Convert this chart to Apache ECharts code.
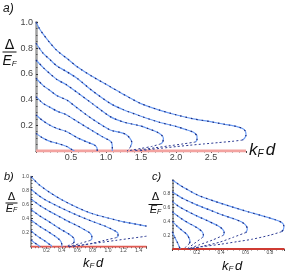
<!DOCTYPE html>
<html><head><meta charset="utf-8">
<script src="https://cdn.jsdelivr.net/npm/echarts@6/dist/echarts.min.js"></script>
<style>html,body{margin:0;padding:0;background:#fff}#c{width:286px;height:275px}</style>
</head><body><div id="c"></div>
<script>
// ---------- Panel a ----------
const aTicksX = [0.5, 1.0, 1.5, 2.0, 2.5];
const aTicksY = [0.2, 0.4, 0.6, 0.8, 1.0];
const aUpper1 = [[0,1.0],[0.05,0.95],[0.1,0.91],[0.2,0.84],[0.3,0.78],[0.44,0.72],[0.6,0.65],[0.8,0.58],[1.06,0.5],[1.25,0.44],[1.49,0.37],[1.75,0.32],[2.01,0.28],[2.25,0.25],[2.49,0.228],[2.7,0.207],[2.87,0.19],[2.95,0.175],[2.99,0.155],[3.0,0.125],[2.98,0.1],[2.95,0.085]];
const aUpper2 = [[0,0.837],[0.1,0.76],[0.2,0.71],[0.3,0.66],[0.44,0.616],[0.6,0.56],[0.8,0.47],[1.06,0.37],[1.25,0.32],[1.5,0.27],[1.75,0.225],[2.01,0.19],[2.15,0.165],[2.25,0.145],[2.3,0.115],[2.3,0.09],[2.28,0.07]];
const aUpper3 = [[0,0.707],[0.1,0.65],[0.2,0.6],[0.3,0.555],[0.44,0.513],[0.6,0.45],[0.8,0.37],[1.06,0.267],[1.25,0.225],[1.49,0.195],[1.62,0.17],[1.72,0.15],[1.79,0.125],[1.82,0.1],[1.81,0.07],[1.78,0.055]];
const aUpper4 = [[0,0.565],[0.1,0.51],[0.2,0.47],[0.3,0.43],[0.44,0.396],[0.6,0.33],[0.8,0.25],[1.06,0.163],[1.2,0.145],[1.28,0.13],[1.34,0.1],[1.37,0.065],[1.35,0.035]];
const aUpper5 = [[0,0.422],[0.1,0.37],[0.2,0.34],[0.3,0.31],[0.44,0.28],[0.6,0.225],[0.8,0.16],[0.95,0.11],[1.04,0.085],[1.08,0.065],[1.09,0.03],[1.09,0]];
const aUpper6 = [[0,0.28],[0.1,0.235],[0.2,0.2],[0.3,0.175],[0.44,0.15],[0.6,0.1],[0.75,0.065],[0.84,0.045],[0.87,0.025],[0.875,0]];
const aUpper7 = [[0,0.137],[0.1,0.1],[0.2,0.075],[0.3,0.06],[0.44,0.035],[0.5,0.015],[0.55,0]];
const aLower1 = [[2.95,0.085],[2.8,0.075],[2.6,0.065],[2.4,0.055],[2.2,0.045],[2.0,0.034],[1.8,0.022],[1.6,0.01],[1.45,0]];
const aLower2 = [[2.28,0.07],[2.1,0.055],[1.9,0.04],[1.7,0.025],[1.5,0.01],[1.38,0]];
const aLower3 = [[1.78,0.055],[1.65,0.035],[1.5,0.02],[1.38,0.008],[1.3,0]];
const aLower4 = [[1.35,0.035],[1.33,0.015],[1.3,0]];
const aZero = [[0,0],[3.0,0]];

// ---------- Panel b ----------
const bTicksX = [0.2, 0.4, 0.6, 0.8, 1.0, 1.2, 1.4];
const bUpper1 = [[0,1.0],[0.1,0.89],[0.25,0.77],[0.4,0.67],[0.6,0.56],[0.8,0.47],[1.0,0.41],[1.2,0.355],[1.4,0.315],[1.5,0.295]];
const bUpper2 = [[0,0.82],[0.1,0.73],[0.2,0.66],[0.4,0.55],[0.6,0.45],[0.8,0.36],[0.95,0.3],[1.05,0.25],[1.1,0.22],[1.13,0.19],[1.13,0.15],[1.11,0.13]];
const bUpper3 = [[0,0.68],[0.1,0.6],[0.2,0.53],[0.3,0.47],[0.45,0.38],[0.6,0.3],[0.7,0.24],[0.76,0.2],[0.79,0.15],[0.79,0.11],[0.77,0.09]];
const bUpper4 = [[0,0.53],[0.1,0.45],[0.2,0.38],[0.3,0.31],[0.4,0.24],[0.48,0.19],[0.53,0.15],[0.56,0.11],[0.56,0.07],[0.55,0.05]];
const bUpper5 = [[0,0.38],[0.1,0.3],[0.2,0.23],[0.3,0.16],[0.36,0.11],[0.39,0.07],[0.4,0.03],[0.4,0]];
const bUpper6 = [[0,0.23],[0.05,0.18],[0.1,0.14],[0.17,0.09],[0.22,0.05],[0.26,0.02],[0.27,0]];
const bUpper7 = [[0,0.1],[0.04,0.06],[0.08,0.03],[0.12,0]];
const bLower1 = [[1.5,0.15],[1.3,0.12],[1.1,0.09],[0.9,0.06],[0.7,0.03],[0.5,0]];
const bLower2 = [[1.11,0.13],[0.95,0.09],[0.8,0.05],[0.65,0.02],[0.5,0]];
const bLower3 = [[0.77,0.09],[0.65,0.05],[0.55,0.02],[0.46,0]];
const bLower4 = [[0.55,0.05],[0.49,0.02],[0.44,0]];
const bZero = [[0,0],[1.5,0]];

// ---------- Panel c ----------
const cTicksX = [0.2, 0.4, 0.6, 0.8];
const cUpper1 = [[0,1.0],[0.05,0.94],[0.1,0.885],[0.21,0.78],[0.35,0.69],[0.49,0.61],[0.62,0.54],[0.76,0.47],[0.85,0.42],[0.9,0.38],[0.915,0.33],[0.91,0.28],[0.895,0.25]];
const cUpper2 = [[0,0.83],[0.05,0.77],[0.1,0.72],[0.2,0.64],[0.3,0.57],[0.4,0.5],[0.5,0.44],[0.57,0.39],[0.605,0.34],[0.615,0.29],[0.605,0.24]];
const cUpper3 = [[0,0.69],[0.05,0.62],[0.1,0.57],[0.2,0.48],[0.3,0.4],[0.37,0.34],[0.41,0.29],[0.425,0.24],[0.42,0.2]];
const cUpper4 = [[0,0.54],[0.05,0.47],[0.1,0.41],[0.16,0.35],[0.21,0.3],[0.245,0.25],[0.255,0.2],[0.25,0.17]];
const cUpper5 = [[0,0.4],[0.04,0.33],[0.08,0.27],[0.12,0.21],[0.14,0.15],[0.145,0.11],[0.14,0.08]];
const cUpper6 = [[0,0.25],[0.02,0.17],[0.04,0.1],[0.055,0.04],[0.065,0]];
const cLower1 = [[0.895,0.25],[0.8,0.2],[0.65,0.14],[0.53,0.106],[0.4,0.07],[0.25,0.034],[0.12,0]];
const cLower2 = [[0.605,0.24],[0.5,0.17],[0.39,0.1],[0.25,0.04],[0.14,0]];
const cLower3 = [[0.42,0.2],[0.33,0.13],[0.22,0.06],[0.13,0]];
const cLower4 = [[0.25,0.17],[0.18,0.08],[0.12,0]];
const cLower5 = [[0.14,0.08],[0.11,0.03],[0.1,0]];
const cZero = [[0,0],[0.92,0]];

const LIGHT = '#6b9cf4', DARK = '#1d2a7a', LOWER = '#2c3a92';
const series = [];
function addPanel(idx, uppers, lowers, zero, zeroColor, zeroWidth) {
  series.push({type:'line', xAxisIndex:idx, yAxisIndex:idx, data:zero, showSymbol:false, silent:true,
    lineStyle:{color:zeroColor, width:zeroWidth}, z:3});
  uppers.forEach(d => {
    series.push({type:'line', xAxisIndex:idx, yAxisIndex:idx, data:d, showSymbol:false, smooth:0.25, silent:true,
      lineStyle:{color:LIGHT, width:1.2}, z:4});
    series.push({type:'line', xAxisIndex:idx, yAxisIndex:idx, data:d, showSymbol:false, smooth:0.25, silent:true,
      lineStyle:{color:DARK, width:1.2, type:[1.5,4]}, z:5});
  });
  lowers.forEach(d => {
    series.push({type:'line', xAxisIndex:idx, yAxisIndex:idx, data:d, showSymbol:false, smooth:0.25, silent:true,
      lineStyle:{color:LOWER, width:1, type:[2,2.2]}, z:5});
  });
}
addPanel(0, [aUpper1,aUpper2,aUpper3,aUpper4,aUpper5,aUpper6,aUpper7], [aLower1,aLower2,aLower3,aLower4], aZero, '#f3a3a0', 3);
addPanel(1, [bUpper1,bUpper2,bUpper3,bUpper4,bUpper5,bUpper6,bUpper7], [bLower1,bLower2,bLower3,bLower4], bZero, '#e05a52', 2);
addPanel(2, [cUpper1,cUpper2,cUpper3,cUpper4,cUpper5,cUpper6], [cLower1,cLower2,cLower3,cLower4,cLower5], cZero, '#cf3b33', 2);

const FONT = 'Liberation Sans';
function xAx(idx, max, ticks, fs, margin) {
  return {type:'value', gridIndex:idx, min:0, max:max, interval:ticks[1]-ticks[0] > 0.3 ? 0.5 : 0.2,
    splitLine:{show:false},
    axisLine:{lineStyle:{color:'#444', width:1}},
    axisTick:{show:true, length:2, lineStyle:{color:'#444'}},
    minorTick:{show:true, splitNumber: idx===0 ? 5 : 4, length:1.5, lineStyle:{color:'#666'}},
    axisLabel:{show:true, fontSize:fs, color:'#444', fontFamily:FONT, margin:margin,
      showMinLabel:false, showMaxLabel:false,
      formatter: v => ticks.some(t => Math.abs(t-v)<1e-6) ? v.toFixed(1) : ''}};
}
function yAx(idx, fs, margin, showMax) {
  return {type:'value', gridIndex:idx, min:0, max:1.0, interval:0.2,
    splitLine:{show:false},
    axisLine:{lineStyle:{color:'#a0a0a0', width: idx===0 ? 2.5 : 2}},
    axisTick:{show:true, inside:true, length:2, lineStyle:{color:'#333'}},
    minorTick:{show:true, splitNumber:4, length:1.5, lineStyle:{color:'#555'}},
    axisLabel:{show:true, fontSize:fs, color:'#444', fontFamily:FONT, margin:margin,
      showMinLabel:false, showMaxLabel:showMax,
      formatter: v => v.toFixed(1)}};
}

function frac(cx, yDelta, yLine, yE, fsD, fsE, halfW) {
  return [
    {type:'text', x:cx, y:yDelta, style:{text:'Δ', font:'normal '+fsD+'px "DejaVu Sans"', fill:'#111', align:'center', verticalAlign:'middle'}},
    {type:'line', shape:{x1:cx-halfW, y1:yLine, x2:cx+halfW, y2:yLine}, style:{stroke:'#111', lineWidth:1}},
    {type:'text', x:cx, y:yE, style:{text:'{e|E}{f|F}', align:'center', verticalAlign:'middle',
      rich:{e:{font:'italic '+fsE+'px "Liberation Sans"', fill:'#111'}, f:{font:'italic '+Math.round(fsE*0.6)+'px "Liberation Sans"', fill:'#111', padding:[fsE*0.35,0,0,0]}}}}
  ];
}
function kfd(x, y, fs) {
  return {type:'text', x:x, y:y, style:{text:'{k|k}{f|F}{d|d}', verticalAlign:'middle',
    rich:{k:{font:'italic '+fs+'px "Liberation Sans"', fill:'#111'},
          f:{font:'italic '+Math.round(fs*0.6)+'px "Liberation Sans"', fill:'#111', padding:[fs*0.4,0,0,0]},
          d:{font:'italic '+fs+'px "Liberation Sans"', fill:'#111', padding:[0,0,0,fs*0.12]}}}};
}

const chart = echarts.init(document.getElementById('c'), null, {renderer:'canvas'});
chart.setOption({
  animation:false,
  backgroundColor:'#fff',
  grid:[
    {left:36, top:22.3, width:210, height:128.7},
    {left:31, top:176.7, width:115.5, height:70},
    {left:172.3, top:180, width:112.2, height:69}
  ],
  xAxis:[xAx(0,3.0,aTicksX,9,2), xAx(1,1.5,bTicksX,5,1.5), xAx(2,0.92,cTicksX,5,1.5)],
  yAxis:[yAx(0,9,3,true), yAx(1,5,2,true), yAx(2,5,2,false)],
  series: series,
  graphic:[
    {type:'text', x:3, y:9, style:{text:'a)', font:'italic 12px "Liberation Sans"', fill:'#111', verticalAlign:'middle'}},
    {type:'text', x:4, y:177, style:{text:'b)', font:'italic 11px "Liberation Sans"', fill:'#111', verticalAlign:'middle'}},
    {type:'text', x:152, y:177, style:{text:'c)', font:'italic 11px "Liberation Sans"', fill:'#111', verticalAlign:'middle'}},
    ...frac(9.5, 45, 52, 61, 14, 14, 7),
    ...frac(11.5, 197.5, 203, 208.5, 11, 11, 6),
    ...frac(155.5, 197.5, 204.5, 210, 11, 11, 7),
    kfd(249, 150.5, 17),
    kfd(83, 263.5, 13),
    kfd(222, 266, 13)
  ]
});
</script></body></html>
